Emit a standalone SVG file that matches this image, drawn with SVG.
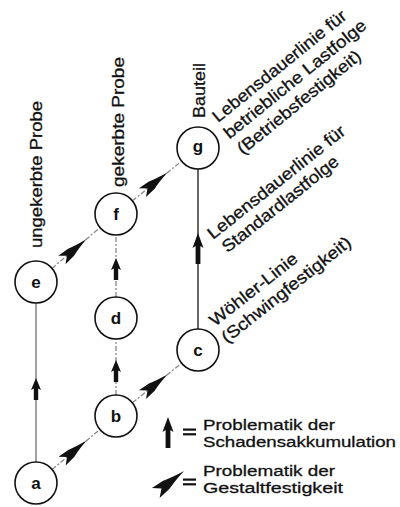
<svg xmlns="http://www.w3.org/2000/svg" width="400" height="507" viewBox="0 0 400 507">
  <style>
    .node circle { fill: #fff; stroke: #111; stroke-width: 1.6; }
    .node text { font-family: "Liberation Sans", Arial, sans-serif; font-size: 17px; font-weight: bold; fill: #111; text-anchor: middle; }
    .lbl { font-family: "Liberation Sans", Arial, sans-serif; font-size: 17px; fill: #111; stroke: #111; stroke-width: 0.3; }
    .leg { font-size: 15.5px; }
    .solid { stroke: #555; stroke-width: 1.1; fill: none; }
    .solid2 { stroke: #333; stroke-width: 1.5; fill: none; }
    .dash { stroke: #888; stroke-width: 1.3; stroke-dasharray: 5 2 2 2; fill: none; }
    .head { fill: #111; }
  </style>
  <defs>
    <!-- dart head, tip at origin, pointing +x -->
    <path id="dart" d="M0,0 Q-12,-2 -20,-4.6 L-32,-5.6 L-25.5,0 L-32,5.6 L-20,4.6 Q-12,2 0,0 Z"/>
    <!-- short upward arrow, tip at origin -->
    <path id="up" d="M0,0 L5,12 L2.2,10.5 L2.2,22 L-2.2,22 L-2.2,10.5 L-5,12 Z"/>
    <!-- long upward arrow, tip at origin -->
    <path id="upL" d="M0,0 L5.5,15 L2.4,13 L2.4,31 L-2.4,31 L-2.4,13 L-5.5,15 Z"/>
  </defs>

  <g id="connectors">
    <line class="solid" x1="36" y1="462" x2="36" y2="303"/>
    <line class="solid2" x1="198" y1="329" x2="198" y2="169"/>
    <line class="dash" x1="52.1" y1="469.5" x2="99.9" y2="429.5"/>
    <line class="dash" x1="132.4" y1="402.8" x2="181.6" y2="363.2"/>
    <line class="dash" x1="52.0" y1="268.4" x2="100.0" y2="227.6"/>
    <line class="dash" x1="132.4" y1="200.8" x2="181.6" y2="161.2"/>
    <line class="dash" x1="116" y1="395" x2="116" y2="339"/>
    <line class="dash" x1="116" y1="297" x2="116" y2="235"/>

    <use class="head" href="#up" x="36" y="378"/>
    <use class="head" href="#up" x="116" y="360"/>
    <use class="head" href="#up" x="116" y="258"/>
    <use class="head" href="#upL" x="198" y="233"/>

    <use class="head" href="#dart" transform="translate(86.6,440.6) rotate(-39.9)"/>
    <use class="head" href="#dart" transform="translate(167.4,374.6) rotate(-38.8)"/>
    <use class="head" href="#dart" transform="translate(86.3,239.3) rotate(-40.4)"/>
    <use class="head" href="#dart" transform="translate(167.4,172.6) rotate(-38.8)"/>
  </g>

  <g id="a" class="node"><circle cx="36" cy="483" r="21"/><text x="36" y="488.5">a</text></g>
  <g id="b" class="node"><circle cx="116" cy="416" r="21"/><text x="116" y="422">b</text></g>
  <g id="c" class="node"><circle cx="198" cy="350" r="21"/><text x="198" y="355.5">c</text></g>
  <g id="d" class="node"><circle cx="116" cy="318" r="21"/><text x="116" y="324">d</text></g>
  <g id="e" class="node"><circle cx="36" cy="282" r="21"/><text x="36" y="287.5">e</text></g>
  <g id="f" class="node"><circle cx="116" cy="214" r="21"/><text x="116" y="220">f</text></g>
  <g id="g" class="node"><circle cx="198" cy="148" r="21"/><text x="198" y="152">g</text></g>

  <g id="labels">
    <text class="lbl" transform="translate(42,248) rotate(-90)" textLength="147" lengthAdjust="spacingAndGlyphs">ungekerbte Probe</text>
    <text class="lbl" transform="translate(124,187) rotate(-90)" textLength="130" lengthAdjust="spacingAndGlyphs">gekerbte Probe</text>
    <text class="lbl" transform="translate(205,118) rotate(-90)" textLength="55" lengthAdjust="spacingAndGlyphs">Bauteil</text>

    <g transform="translate(218,123) rotate(-39)">
      <text class="lbl" x="0" y="0" textLength="167" lengthAdjust="spacingAndGlyphs">Lebensdauerlinie für</text>
      <text class="lbl" x="-1.5" y="20" textLength="178" lengthAdjust="spacingAndGlyphs">betriebliche Lastfolge</text>
      <text class="lbl" x="-1" y="40.5" textLength="154" lengthAdjust="spacingAndGlyphs">(Betriebsfestigkeit)</text>
    </g>
    <g transform="translate(213,240) rotate(-38.6)">
      <text class="lbl" x="0" y="0" textLength="171" lengthAdjust="spacingAndGlyphs">Lebensdauerlinie für</text>
      <text class="lbl" x="3" y="19.5" textLength="144" lengthAdjust="spacingAndGlyphs">Standardlastfolge</text>
    </g>
    <g transform="translate(215,327) rotate(-38.3)">
      <text class="lbl" x="0" y="0" textLength="107" lengthAdjust="spacingAndGlyphs">Wöhler-Linie</text>
      <text class="lbl" x="-1" y="20.5" textLength="160" lengthAdjust="spacingAndGlyphs">(Schwingfestigkeit)</text>
    </g>
  </g>

  <g id="legend">
    <use class="head" href="#upL" x="168" y="417"/>
    <rect x="183" y="428.5" width="13" height="2.2" fill="#111"/>
    <rect x="183" y="433.2" width="13" height="2.2" fill="#111"/>
    <text class="lbl leg" x="203" y="430" textLength="132" lengthAdjust="spacingAndGlyphs">Problematik der</text>
    <text class="lbl leg" x="203" y="447" textLength="193" lengthAdjust="spacingAndGlyphs">Schadensakkumulation</text>

    <use class="head" href="#dart" transform="translate(184,471) rotate(-38) scale(1.12)"/>
    <rect x="183" y="478.5" width="13" height="2.2" fill="#111"/>
    <rect x="183" y="483.2" width="13" height="2.2" fill="#111"/>
    <text class="lbl leg" x="203" y="476" textLength="132" lengthAdjust="spacingAndGlyphs">Problematik der</text>
    <text class="lbl leg" x="203" y="493" textLength="140" lengthAdjust="spacingAndGlyphs">Gestaltfestigkeit</text>
  </g>
</svg>
